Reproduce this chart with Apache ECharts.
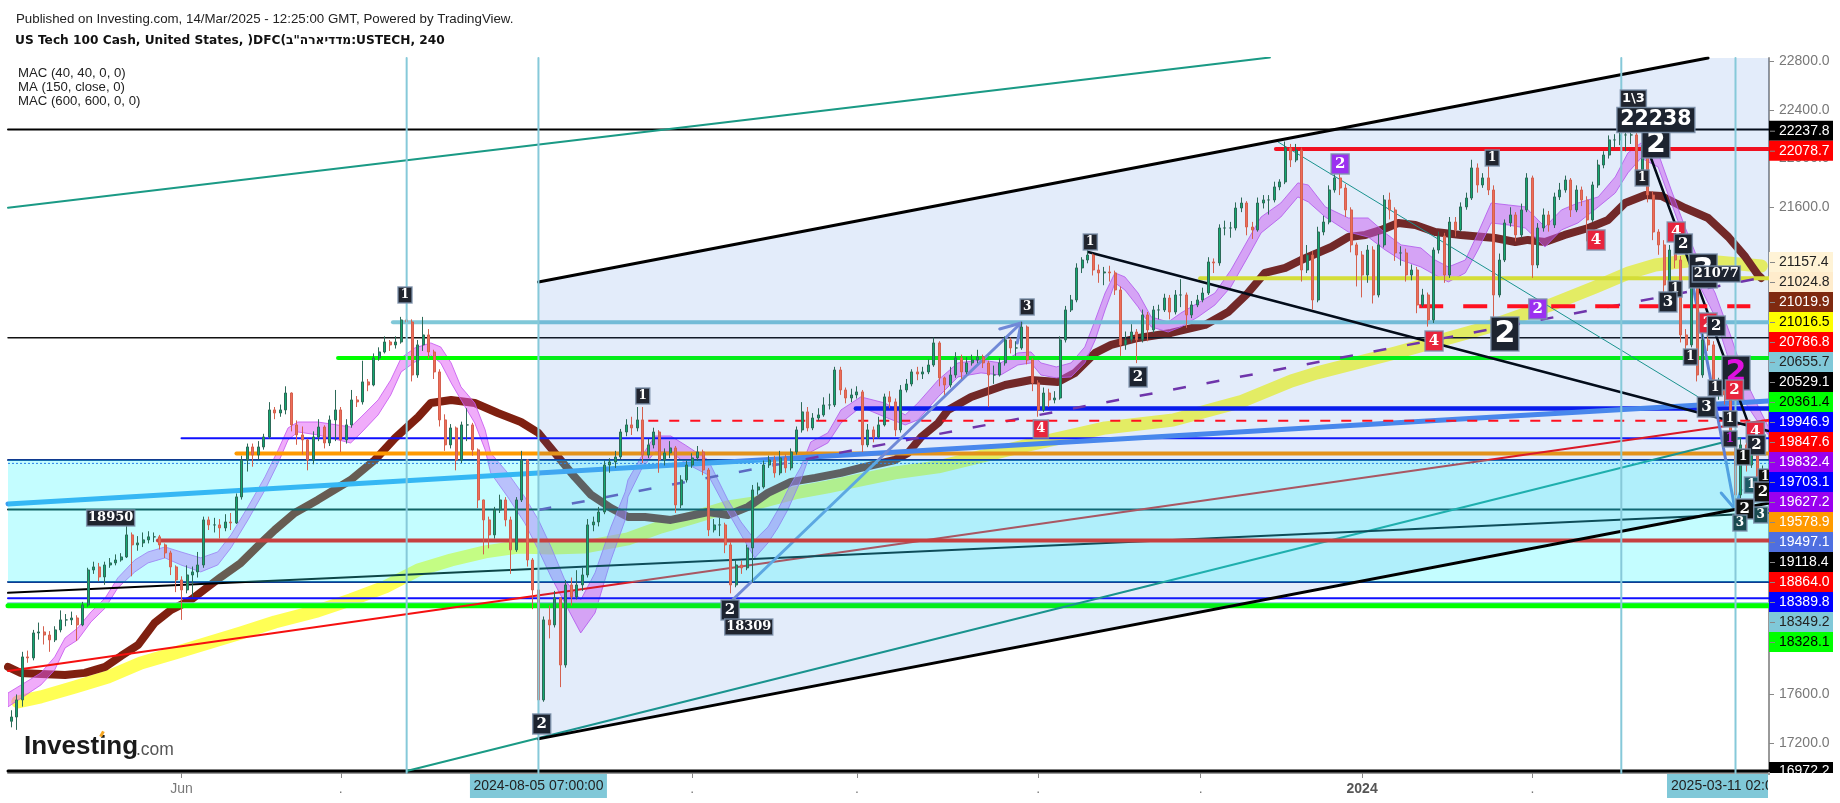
<!DOCTYPE html>
<html><head><meta charset="utf-8"><style>html,body{margin:0;padding:0;background:#fff}#c{width:1840px;height:803px}</style>
<script src="https://cdn.jsdelivr.net/npm/echarts@6/dist/echarts.min.js"></script></head><body><div id="c"></div><script>
// x values are days relative to the 2024-08-05 07:00 marker; one candle per day from day -96
const ANCHOR = Date.UTC(2024,7,5,7);
const FIRST_DAY = -96, X_MIN = -96.6, X_MAX = 224.1, Y_MIN = 16955, Y_MAX = 22825.6;
const candles = [ // close, low, high
[17415,17330,17470],[17555,17309,17600],[17908,17500,17950],[17900,17860,17960],[18105,17880,18130],[18113,18050,18190],[18088,18010,18160],[18048,17950,18120],[18130,18030,18160],[18212,18110,18290],
[18212,18160,18260],[18228,18170,18280],[18171,18040,18250],[18335,18160,18360],[18622,18320,18640],[18647,18590,18690],[18565,18530,18680],[18663,18500,18690],[18680,18640,18720],[18704,18660,18750],
[18729,18690,18760],[18910,18720,18990],[18828,18570,18930],[18844,18780,18900],[18869,18810,18930],[18894,18840,18940],[18894,18850,18930],[18828,18790,18910],[18762,18720,18840],[18647,18580,18780],
[18540,18440,18660],[18458,18212,18570],[18581,18430,18660],[18606,18400,18650],[18663,18560,18770],[19033,18640,19060],[18992,18950,19060],[18992,18930,19050],[18967,18880,19040],[19016,18940,19080],
[19008,18950,19090],[19222,19000,19250],[19525,19200,19560],[19632,19430,19660],[19566,19470,19660],[19632,19530,19680],[19714,19610,19740],[19936,19700,20000],[19911,19860,19960],[19936,19880,19980],
[20075,19900,20130],[19813,19760,20080],[19731,19650,19850],[19690,19570,19800],[19525,19440,19700],[19714,19490,19760],[19796,19680,19860],[19665,19620,19810],[19854,19640,19890],[19936,19680,20100],
[19690,19590,19960],[19813,19660,19860],[20018,19790,20100],[20002,19960,20050],[20166,19980,20340],[20141,20090,20190],[20363,20130,20400],[20412,20340,20450],[20494,20400,20540],[20470,20420,20510],
[20494,20440,20540],[20675,20480,20700],[20658,20610,20800],[20223,20170,20680],[20470,20200,20510],[20552,20420,20700],[20412,20360,20600],[20248,20190,20430],[19854,19800,20270],[19649,19600,19900],
[19788,19620,19820],[19525,19440,19800],[19813,19500,19840],[19813,19680,19950],[19608,19560,19830],[19197,19130,19620],[19033,18750,19200],[18910,18800,19060],[19115,18880,19140],[19197,19090,19240],
[19033,18980,19220],[18787,18590,19060],[19197,18770,19220],[19525,19180,19600],[18704,18650,19530],[18458,18300,18720],[17555,17268,18480],[18212,17540,18240],[18171,18060,18330],[18393,18150,18450],
[17842,17660,18400],[18499,17820,18540],[18401,18330,18560],[18499,18380,18620],[18581,18450,18640],[18992,18560,19040],[19016,18940,19060],[19098,18980,19140],[19484,19080,19520],[19509,19420,19540],
[19550,19460,19600],[19755,19530,19780],[19813,19720,19860],[19788,19730,19880],[19854,19760,19960],[19566,19500,19960],[19649,19540,19700],[19755,19620,19790],[19525,19420,19770],[19583,19480,19620],
[19624,19540,19680],[19156,19090,19640],[19361,19130,19400],[19484,19340,19520],[19542,19460,19580],[19591,19520,19640],[19443,19400,19610],[18951,18900,19460],[18992,18930,19040],[18992,18900,19050],
[18828,18760,19010],[18499,18430,18850],[18663,18480,18700],[18639,18590,18700],[18803,18620,18830],[19279,18520,19320],[19304,19240,19340],[19484,19290,19520],[19525,19460,19560],[19419,19380,19560],
[19542,19400,19600],[19460,19420,19570],[19591,19440,19620],[19772,19570,19800],[19920,19750,20000],[19788,19760,19960],[19870,19770,19910],[19895,19850,19950],[19977,19880,20040],[19977,19940,20070],
[20264,19960,20290],[20100,20060,20290],[20034,19990,20120],[20059,20000,20110],[20084,20030,20130],[19649,19590,20100],[19772,19630,19820],[19714,19670,19800],[19813,19700,19880],[20043,19800,20070],
[20002,19950,20090],[19772,19720,20030],[20100,19750,20140],[20149,20080,20190],[20248,20130,20270],[20231,20180,20290],[20248,20190,20290],[20305,20230,20350],[20486,20290,20530],[20199,20130,20500],
[20141,20060,20210],[20223,20120,20290],[20363,20200,20410],[20248,20190,20390],[20322,20230,20370],[20346,20300,20390],[20371,20320,20430],[20322,20280,20390],[20223,19960,20340],[20223,20150,20300],
[20322,20210,20360],[20511,20300,20540],[20445,20400,20530],[20445,20380,20500],[20617,20430,20660],[20346,20310,20630],[20158,20090,20360],[19936,19880,20180],[20075,19920,20120],[20018,19960,20110],
[20034,19990,20090],[20511,20020,20540],[20757,20490,20790],[20839,20740,20880],[21102,20820,21140],[21167,21060,21190],[21208,21140,21250],[21085,21040,21220],[21061,20980,21130],[21069,20960,21110],
[21061,20990,21120],[20921,20880,21080],[20470,20380,20950],[20511,20430,20580],[20576,20490,20640],[20511,20320,20600],[20716,20490,20760],[20593,20500,20740],[20757,20570,20790],[20757,20680,20800],
[20855,20740,20890],[20740,20680,20880],[20880,20720,20920],[20880,20780,21010],[20716,20610,20900],[20798,20690,20830],[20839,20780,20880],[20896,20820,20940],[21151,20880,21190],[21143,21060,21180],
[21430,21120,21460],[21430,21370,21490],[21430,21350,21480],[21594,21410,21640],[21635,21560,21680],[21438,21370,21650],[21414,21340,21480],[21635,21400,21680],[21660,21590,21700],[21660,21540,21700],
[21767,21640,21810],[21808,21740,21830],[22087,21790,22140],[21988,21930,22120],[22070,21970,22120],[21085,20990,22090],[21208,21060,21290],[20839,20760,21240],[21397,20820,21440],[21479,21370,21530],
[21742,21460,21780],[21841,21720,21870],[21758,21700,21880],[21578,21520,21790],[21291,21230,21600],[21208,20950,21310],[21044,20860,21240],[21249,20980,21290],[20880,20810,21280],[21291,20860,21380],
[21660,21270,21700],[21578,21500,21720],[21225,21160,21600],[21225,21120,21280],[21044,20990,21260],[21085,21000,21130],[20798,20730,21110],[20880,20780,20930],[20675,20620,20900],[21249,20650,21270],
[21364,21220,21400],[21044,20980,21390],[21479,21020,21520],[21414,21360,21520],[21603,21400,21640],[21676,21580,21720],[21923,21660,21990],[21783,21720,21960],[21841,21760,21880],[21742,21700,21960],
[20880,20700,21780],[21167,20860,21220],[21471,21150,21500],[21537,21440,21600],[21373,21320,21560],[21578,21350,21630],[21841,21560,21880],[21126,21020,21860],[21430,21100,21470],[21537,21400,21590],
[21455,21400,21570],[21685,21430,21720],[21742,21660,21800],[21824,21720,21860],[21578,21520,21840],[21742,21560,21780],[21660,21610,21770],[21496,21320,21690],[21783,21480,21810],[21947,21760,21990],
[22029,21920,22060],[22153,22000,22190],[22153,22090,22200],[22194,22110,22270],[22194,22060,22240],[22194,22120,22240],[21906,21860,22210],[22070,21880,22110],[21701,21640,22090],[21397,21330,21730],
[21291,21210,21420],[20962,20900,21330],[21249,20940,21290],[21167,21100,21300],[20552,20490,21200],[20470,20360,20600],[20962,20450,21030],[20223,20170,20990],[20511,20200,20560],[20470,20420,20650],
[20059,19990,20500],[20141,20020,20200],[20059,19980,20180],[19690,19640,20090],[19238,19150,19720],[19649,19210,19700],[19484,19430,19680],[19649,19460,19700],[19279,19210,19670],[19443,19260,19480]
];
const mac40Band = [ // day, upper, lower
[-96.6,17612,17498],[-90.6,17777,17678],[-88.1,17908,17801],[-86.2,18064,17982],[-83.9,18146,18048],[-81.5,18277,18195],[-78.9,18392,18310],[-76.6,18557,18475],[-73.5,18704,18606],[-71.1,18770,18680],[-68,18811,18721],[-65.1,18770,18663],[-61.5,18721,18606],[-58.4,18770,18663],[-56,18910,18803],[-52.9,19140,19033],[-49.8,19386,19279],[-47.4,19608,19501],[-45.6,19788,19690],[-43.8,19837,19755],[-40.2,19837,19731],[-34.2,19796,19665],[-32.3,19878,19747],[-29.2,20018,19895],[-26.9,20182,20059],[-25,20363,20248],[-22.5,20445,20330],[-19.6,20486,20387],[-17.8,20453,20322],[-15.9,20322,20158],[-14.1,20125,20018],[-11.6,19993,19829],[-9.7,19772,19608],[-8.7,19583,19419],[-5.6,19419,19222],[-2.5,19222,19008],[0,19033,18786],[2.3,18811,18565],[4.8,18540,18351],[7.7,18376,18105],[10.3,18598,18269],[13.2,18975,18704],[15.8,19263,19033],[16.3,19361,19222],[18.7,19550,19443],[21.2,19722,19591],[24.1,19722,19591],[26.7,19649,19501],[30.9,19525,19402],[34.5,19197,19098],[36.9,19016,18910],[39.4,18869,18721],[41.8,18975,18844],[43.6,19115,18967],[45.4,19279,19115],[47.8,19468,19361],[49.6,19673,19591],[52.7,19747,19665],[55.1,19936,19829],[58.7,20043,19961],[63.1,19993,19878],[66.8,19895,19813],[69.1,19993,19854],[72.8,20182,20043],[76.4,20322,20207],[80.6,20346,20240],[84.2,20322,20223],[87.3,20404,20305],[89.7,20412,20322],[91.5,20322,20223],[94.3,20289,20199],[97,20322,20207],[99.5,20453,20322],[101.4,20675,20511],[103.2,20896,20757],[105,21061,20979],[106.8,21028,20921],[109.2,20896,20782],[111.6,20699,20617],[114.7,20658,20576],[117,20732,20617],[120.1,20814,20699],[123.2,20896,20798],[126.1,21085,20946],[129.2,21332,21192],[131.6,21520,21389],[135.2,21635,21520],[138.3,21800,21685],[140.2,21783,21644],[143.3,21603,21520],[147.5,21512,21397],[151.1,21512,21356],[154.2,21389,21250],[157.1,21291,21167],[160.7,21266,21110],[163.3,21167,21044],[165.7,21110,20987],[168.8,21167,21061],[171.1,21389,21250],[173.5,21635,21471],[176.6,21619,21455],[179.7,21603,21430],[183.3,21438,21274],[186.3,21578,21414],[189.3,21635,21471],[193,21685,21603],[196.1,21849,21717],[198.4,22046,21882],[200.8,22128,22005],[203.9,22046,21931],[206.3,21742,21635],[208.8,21438,21332],[211.2,21167,20979],[214.3,20896,20699],[217.2,20535,20289],[219.8,20182,19993],[222.7,19911,19796],[224,19796,19731]];
const ma150 = [[-96.6,17826],[-94.3,17777],[-90.6,17768],[-86.2,17760],[-82.6,17777],[-78.9,17826],[-76,17916],[-72.9,18007],[-69.9,18187],[-66.9,18294],[-63.3,18376],[-60.2,18483],[-57.8,18565],[-54.2,18680],[-50.5,18844],[-48,18951],[-44.4,19090],[-40.2,19197],[-34.2,19361],[-29.8,19525],[-26.1,19706],[-21.9,19878],[-19.6,19993],[-15.9,20018],[-11.6,19993],[-7.4,19911],[-3.2,19837],[0,19747],[3.6,19550],[6.6,19386],[9.6,19238],[13.2,19131],[16.3,19057],[19.4,19057],[24.1,19033],[26.7,19057],[30.9,19098],[34.5,19074],[38.2,19140],[41.8,19255],[46,19345],[50.4,19378],[55.1,19419],[58.7,19460],[64.9,19525],[67.3,19583],[69.7,19714],[72.8,19829],[74.6,19936],[78.8,20043],[85,20141],[89.7,20182],[94.6,20166],[97.7,20240],[101.4,20404],[104.3,20470],[109.2,20527],[115.2,20568],[121.4,20634],[125.6,20740],[129.2,20896],[132.3,21061],[136,21102],[138.9,21167],[144.4,21274],[147.5,21356],[150.6,21373],[153.5,21414],[156.6,21471],[159.7,21455],[163.3,21397],[168,21373],[174.2,21348],[177.9,21315],[180.2,21332],[183.3,21315],[186.9,21373],[191.2,21430],[194.8,21496],[197.9,21635],[201.6,21701],[204.5,21693],[208.8,21594],[213,21512],[216.7,21356],[219.8,21192],[222.1,21044],[222.7,21020]];
const mac600 = [[-94.8,17539],[-90.6,17580],[-84.4,17662],[-78.4,17744],[-72.4,17859],[-66.2,17941],[-60.2,18023],[-54.2,18105],[-48,18195],[-40.2,18286],[-34.2,18376],[-27.9,18483],[-21.9,18622],[-15.9,18704],[-9.7,18770],[-3.7,18811],[2.3,18803],[8.5,18811],[16.3,18877],[22.3,18975],[28.5,19057],[34.5,19140],[40.5,19180],[46.7,19255],[52.7,19304],[58.7,19361],[64.9,19419],[72.8,19468],[87.7,19632],[103.2,19788],[115.6,19854],[127.8,20002],[137.1,20174],[141.8,20240],[156,20404],[173,20617],[184.3,20798],[192.5,20946],[198.5,21061],[203.4,21126],[210.7,21167],[222.7,21118]];
const levels = [ // price, start day, end day, colour, width, dash, layer
[22237.8,-96.6,224.1,'#000',2,0,3],[22078.7,134.3,224.1,'#f01020',4,0,4.5],[21016.5,120.5,224.1,'#eeee22',4,0,3],[20786.8,160.4,220.7,'#ff1020',4,[24,20],4.5],
[20655.7,-26.5,224.1,'#80c8d8',4,0,3],[20529.1,-96.6,224.1,'#111',1.5,0,3],[20361.4,-36.5,224.1,'#00ff00',4,0,3],[19946.9,57.8,224.1,'#0814f0',4.5,0,3],
[19847.6,20,224.1,'#ff1020',2,[10,11],4.5],[19703.1,-65,224.1,'#1010ff',2,0,3],[19578.9,-55,224.1,'#ff9900',4,0,3],[19525,-96.6,224.1,'#103a90',2,0,3],
[19497.1,-96.6,224.1,'#2a55e0',1,[2,2],3],[19118.4,-96.6,224.1,'#052a2a',2,0,3],[18864,-69.3,224.1,'#c64040',4,0,4.5],[18524,-96.6,224.1,'#103a90',2,0,3],
[18389.8,-96.6,224.1,'#1010ff',2,0,3],[18349.2,-96.6,224.1,'#80c8d8',2,0,3],[18328.1,-96.6,224.1,'#00ff00',5,0,3],[16972.2,-96.6,224.1,'#000',3,0,3]];
const trendLines = [ // points, colour, width, dash
[[[-96.6,21597],[133.2,22830]],'#1a9a85',2,0],
[[[-24,16972],[218.9,19706]],'#1a9a85',2,0],
[[[-96.6,17793],[224,19854]],'#f51010',2,0],
[[[-96.6,18434],[224,19090]],'#000',2,0],
[[[-96.6,19164],[0,19418]],'#3a9ff0',5,0],
[[[0,19418],[224,20010]],'#4f8cf0',5,0],
[[[0,19115],[222.7,21020]],'#7b2fa5',2.5,[13,21]],
[[[100.1,21233],[224,19763]],'#000',2.5,0],
[[[134.7,22136],[211.2,20043]],'#1a9a85',1,0],
[[[201.6,22128],[222.1,19608]],'#000',2.5,0],
[[[34,18318],[87.9,20650]],'#7d8fd8',3,0],[[[84,20601],[87.9,20650],[87.2,20486]],'#7d8fd8',3,0],
[[[210.3,20946],[217.9,19123]],'#6a84d4',3,0],[[[215.4,19254],[217.9,19123],[219,19279]],'#6a84d4',3,0]];
const channelEdges = [[[0,20987],[213,22826]],[[0,17235],[224.1,19172]]];
const markerDays = [-24,0,197.2,218];
const channel = [[0,20987],[213,22826],[224.1,22826],[224.1,19172],[0,17235]];
const zone = [[-96.6,19525],[224.1,19525],[224.1,18524],[-96.6,18524]];
const waveLabels = [ // day, price, text, box colour, text colour, size
[-24.3,20880,'1','#20242e','#fff','s'],[-77.9,19049,'18950','#20242e','#fff','n'],[0.6,17358,'2','#1d2430','#fff','m'],[19,20051,'1','#20242e','#fff','s'],
[34.9,18294,'2','#1d2430','#fff','m'],[38.3,18154,'18309','#20242e','#fff','n'],[89,20782,'3','#20242e','#fff','s'],[91.5,19780,'4','#e8243c','#fff','s2'],
[100.5,21315,'1','#20242e','#fff','s'],[109.2,20207,'2','#1d2430','#fff','m'],[146,21956,'2','#9b30f0','#fff','m'],[173.7,22005,'1','#20242e','#fff','s'],
[163.1,20502,'4','#e8243c','#fff','m'],[176,20560,'2','#1d2430','#fff','b'],[182,20765,'2','#9b30f0','#fff','m'],[192.6,21332,'4','#e8243c','#fff','m'],
[199.4,22489,'1\\3','#20242e','#fff','w'],[203.5,22112,'2','#1d2430','#fff','b2'],[203.5,22317,'22238','#1d2430','#fff','x'],[201,21841,'1','#20242e','#fff','s'],
[207.2,21397,'4','#e8243c','#fff','m'],[208.5,21299,'2','#1d2430','#fff','m'],[212.1,21077,'3','#1d2430','#fff','b'],[214.5,21053,'21077','#1d2430','#fff','n'],
[207,20929,'1','#20242e','#fff','s'],[205.7,20823,'3','#1d2430','#fff','m'],[213,20650,'2','#e8243c','#fff','m'],[214.5,20625,'2','#1d2430','#fff','m'],
[209.8,20371,'1','#20242e','#fff','s'],[218.1,20240,'2','#1d2430','#e010e0','b'],[214.3,20116,'1','#20242e','#fff','s'],[217.8,20100,'2','#e8243c','#fff','m'],
[212.7,19960,'3','#1d2430','#fff','m'],[217,19862,'1','#20242e','#fff','s'],[217,19698,'1','#20242e','#c020e0','s'],[221.6,19755,'4','#e8243c','#fff','m'],
[221.8,19649,'2','#1d2430','#fff','m'],[219.4,19550,'1','#111','#fff','s'],[220.9,19320,'1','#1d5a66','#fff','s'],[223.4,19386,'1','#111','#fff','s'],
[223,19263,'2','#111','#fff','m'],[219.7,19123,'2','#111','#fff','m'],[222.6,19074,'3','#1a4a50','#fff','s'],[218.8,19008,'3','#1a4a50','#fff','s']];
const xTicks = [[-65,'Jun'],[-36,'.'],[0,''],[28,'.'],[58,'.'],[91,'.'],[120.6,'.'],[150,'2024'],[181,'.'],[218,'']];
const yTicks = [17200,17600,18000,18400,18800,19200,19600,20000,20400,20800,21600,22000,22400,22800];
const priceTags = [['22237.8','#000','#fff'],['22078.7','#ff0000','#fff'],['21157.4','#fff3d6','#222'],['21024.8','#ffeccc','#222'],['21019.9','#7f2a10','#fff'],['21016.5','#ffff00','#000'],['20786.8','#ff0000','#fff'],['20655.7','#80c8d8','#222'],['20529.1','#000','#fff'],['20361.4','#00ff00','#000'],['19946.9','#0000ff','#fff'],['19847.6','#ff0000','#fff'],['19832.4','#9900ee','#fff'],['19703.1','#0000ff','#fff'],['19627.2','#9900ee','#fff'],['19578.9','#ff9900','#fff'],['19497.1','#4f6fe0','#fff'],['19118.4','#000','#fff'],['18864.0','#ff0000','#fff'],['18389.8','#0000ff','#fff'],['18349.2','#80c8d8','#222'],['18328.1','#00ff00','#000']];
const legendLines = ['MAC (40, 40, 0, 0)','MA (150, close, 0)','MAC (600, 600, 0, 0)'];
const headerText = 'Published on Investing.com, 14/Mar/2025 - 12:25:00 GMT, Powered by TradingView.';
const titleText = 'US Tech 100 Cash, United States, )DFC(מדדיארה"ב:USTECH, 240';

const t = d => ANCHOR + d*864e5;
const candleData = candles.map((r,i)=>{const o=i?candles[i-1][0]:17380;return [t(FIRST_DAY+i),o,r[0],Math.min(r[1],o,r[0]),Math.max(r[2],o,r[0])]});
const lineSeries=(pts,color,width,dash,z,extra)=>Object.assign({type:'line',silent:true,showSymbol:false,animation:false,z,data:pts.map(p=>[t(p[0]),p[1]]),lineStyle:{color,width,type:dash||'solid',cap:dash?'butt':'round',join:'round'}},extra||{});
const polySeries=(rows,style,z)=>({type:'custom',silent:true,animation:false,clip:true,z,data:[[t(rows[0][0]),rows[0][1]]],encode:{x:0,y:1},
  renderItem:(p,api)=>({type:'polygon',shape:{points:rows.map(r=>api.coord([t(r[0]),r[1]]))},style})});
const BOX={s:[14,16,12],s2:[15,18,13],m:[18,20,15],b:[28,34,30],b2:[28,26,28],n:[48,16,13],x:[78,25,20.5],w:[26,18,13]};
const series=[
 lineSeries(mac600,'#ffff55',13,0,1),
 lineSeries(ma150,'#7f2010',8,0,2),
 polySeries(mac40Band.map(r=>[r[0],r[1]]).concat(mac40Band.slice().reverse().map(r=>[r[0],r[2]])),{fill:'rgba(225,90,245,.5)',stroke:'rgba(200,90,240,.85)',lineWidth:1},3),
 ...levels.map(l=>lineSeries([[l[1],l[0]],[l[2],l[0]]],l[3],l[4],l[5],l[6])),
 ...trendLines.map(l=>lineSeries(l[0],l[1],l[2],l[3],3)),
 polySeries(channel,{fill:'rgba(22,97,213,.12)'},4),
 polySeries(zone,{fill:'rgba(44,248,255,.28)'},4),
 ...channelEdges.map(l=>lineSeries(l,'#000',3,0,4.5)),
 {type:'candlestick',silent:true,animation:false,large:false,z:5,barWidth:2.5,data:candleData,encode:{x:0,y:[1,2,3,4]},
  itemStyle:{color:'#14a870',color0:'#ee6d58',borderColor:'#2d6a58',borderColor0:'#d4604e',borderWidth:1}},
 ...markerDays.map(d=>lineSeries([[d,Y_MIN],[d,Y_MAX]],'#86c9d9',2,0,6)),
 {type:'custom',silent:true,animation:false,clip:true,z:7,data:waveLabels.map(r=>[t(r[0]),r[1]]),encode:{x:0,y:1},
  renderItem:(p,api)=>{const r=waveLabels[p.dataIndex],c=api.coord([t(r[0]),r[1]]),b=BOX[r[5]];
   const serif=r[5]=='n'||r[5]=='s'||r[5]=='s2'||r[5]=='m';
   return {type:'group',children:[
    {type:'rect',shape:{x:c[0]-b[0]/2,y:c[1]-b[1]/2,width:b[0],height:b[1]},style:{fill:r[3],stroke:'rgba(125,145,170,.85)',lineWidth:1.5}},
    {type:'text',style:{text:r[2],x:c[0],y:c[1],align:'center',verticalAlign:'middle',fill:r[4],font:`bold ${b[2]}px ${serif?'"DejaVu Serif"':'"DejaVu Sans"'}`}}]}}}
];
const chart=echarts.init(document.getElementById('c'),null,{renderer:'canvas'});
chart.setOption({animation:false,backgroundColor:'#fff',
 grid:{left:8,right:71,top:58,bottom:30},
 xAxis:{type:'value',min:t(X_MIN),max:t(X_MAX),splitLine:{show:false},
  axisLine:{onZero:false,lineStyle:{color:'#999',width:2}},
  axisTick:{length:5,lineStyle:{color:'#888'},customValues:xTicks.map(x=>t(x[0]))},
  axisLabel:{margin:9,fontFamily:'Liberation Sans',fontSize:14,color:'#787878',hideOverlap:false,showMinLabel:true,showMaxLabel:true,
   customValues:xTicks.map(x=>t(x[0])),
   formatter:v=>{const f=xTicks.find(x=>Math.abs(t(x[0])-v)<6e7);const s=f?f[1]:'';return s=='2024'?'{b|2024}':s},
   rich:{b:{fontWeight:'bold',fontSize:14,color:'#555',fontFamily:'Liberation Sans'}}}},
 yAxis:{type:'value',position:'right',min:Y_MIN,max:Y_MAX,splitLine:{show:false},
  axisLine:{show:true,lineStyle:{color:'#999',width:2}},axisTick:{show:true,length:5,lineStyle:{color:'#888'},customValues:yTicks},
  axisLabel:{margin:10,fontFamily:'Liberation Sans',fontSize:14,color:'#787878',customValues:yTicks,formatter:v=>v.toFixed(1)}},
 series});
const F='Liberation Sans';
const txt=(text,x,y,font,fill,align)=>({type:'text',z:100,style:{text,x,y,font,fill,align:align||'left',verticalAlign:'middle'}});
const g=[];
g.push(txt(headerText,16,19,`13.3px "${F}"`,'#222'));
g.push(txt(titleText,15,41,`bold 12.2px "DejaVu Sans"`,'#111'));
legendLines.forEach((s,i)=>g.push(txt(s,18,73+i*14,`13.2px "${F}"`,'#222')));
g.push(txt('Investing',24,747,`bold 26px "${F}"`,'#1a1a1a'));
g.push(txt('.com',136,750,`17.5px "${F}"`,'#555'));
g.push({type:'rect',z:101,rotation:-0.5,x:102,y:734,shape:{x:-1.5,y:-3,width:3,height:6},style:{fill:'#f5a623'}});
priceTags.forEach((r,i)=>{const cy=130.7+i*20+(i>=2?91.3:0);
 g.push({type:'rect',z:100,shape:{x:1769,y:cy-10,width:64,height:20},style:{fill:r[1]}});
 g.push({type:'rect',z:101,shape:{x:1770,y:cy,width:5,height:1},style:{fill:'#888'}});
 g.push(txt(r[0],1779,cy+0.5,`14px "${F}"`,r[2]));});
g.push({type:'rect',z:100,shape:{x:1769,y:762,width:64,height:20},style:{fill:'#000'}});
g.push(txt('16972.2',1779,771.5,`14px "${F}"`,'#fff'));
g.push({type:'rect',z:102,shape:{x:1769,y:773,width:71,height:30},style:{fill:'#fff'}});
[[0,'2024-08-05 07:00:00'],[218,'2025-03-11 02:00:00']].forEach(m=>{const px=chart.convertToPixel({xAxisIndex:0},t(m[0]));
 g.push({type:'rect',z:100,shape:{x:px-68.5,y:774,width:137,height:24},style:{fill:'#80c8d8'}});
 g.push(txt(m[1],px,786,`14px "${F}"`,'#222','center'));});
g.push({type:'rect',z:101,shape:{x:1768,y:774,width:72,height:29},style:{fill:'#fff'}});
g.push({type:'rect',z:102,shape:{x:1768,y:772,width:2,height:3},style:{fill:'#999'}});
chart.setOption({graphic:g});
</script></body></html>
